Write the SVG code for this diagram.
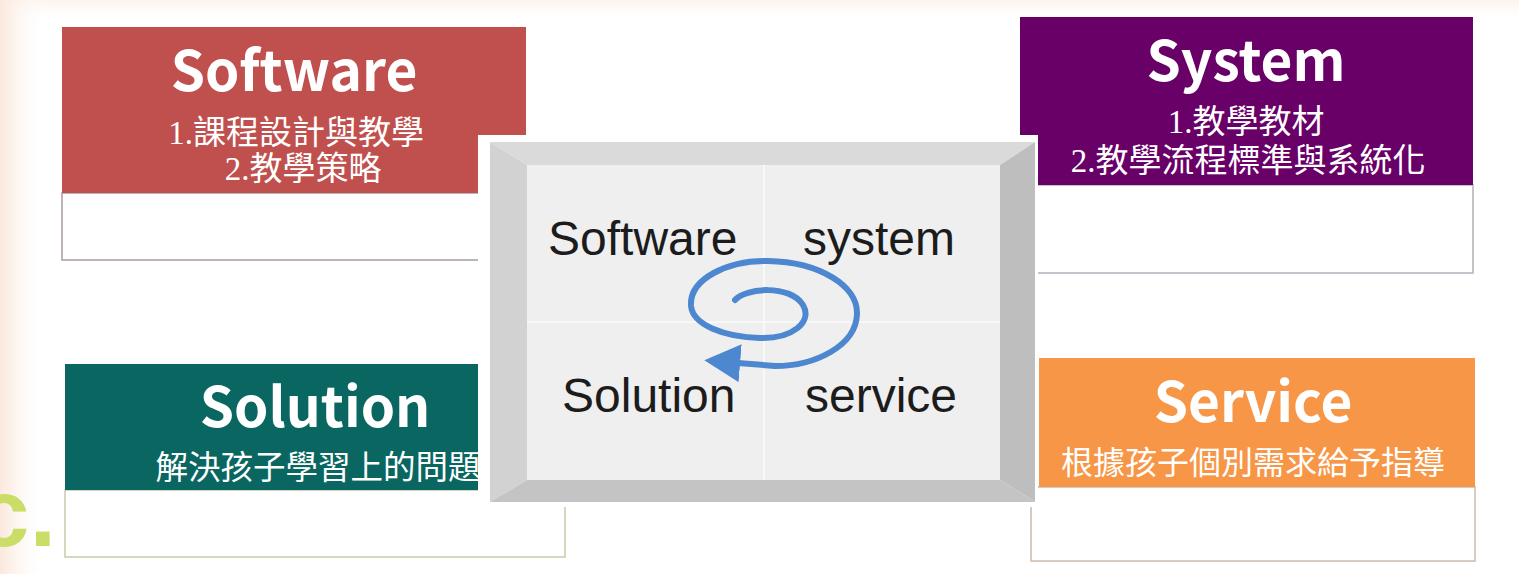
<svg xmlns="http://www.w3.org/2000/svg" width="1519" height="574" viewBox="0 0 1519 574">
  <defs>
    <linearGradient id="bgLeft" x1="0" y1="0" x2="1" y2="0">
      <stop offset="0" stop-color="#fbe8dd"/>
      <stop offset="1" stop-color="#ffffff" stop-opacity="0"/>
    </linearGradient>
    <linearGradient id="bgTop" x1="0" y1="0" x2="0" y2="1">
      <stop offset="0" stop-color="#fcf3ee"/>
      <stop offset="1" stop-color="#ffffff" stop-opacity="0"/>
    </linearGradient>
    <marker id="arrowHead" markerUnits="userSpaceOnUse" markerWidth="36" markerHeight="38" viewBox="0 0 34 36" refX="2" refY="18" orient="auto">
      <path d="M0,0 L34,18 L0,36 z" fill="#4c87cf"/>
    </marker>
    <style>
      .title { font-family: "Noto Sans CJK TC", "Noto Sans", sans-serif; font-weight: 700; font-size: 55px; fill: #ffffff; text-anchor: middle; }
      .sub { font-family: "Liberation Serif", "Noto Sans CJK TC", serif; font-size: 33px; fill: #ffffff; text-anchor: middle; }
      .cell { font-family: "Liberation Sans", Arial, sans-serif; font-size: 48px; fill: #1c1c1c; }
      .outline { fill: #ffffff; stroke-width: 1.5; }
    </style>
  </defs>

  <!-- background -->
  <rect x="0" y="0" width="1519" height="574" fill="#ffffff"/>
  <rect x="0" y="0" width="1519" height="22" fill="url(#bgTop)"/>
  <rect x="0" y="0" width="48" height="574" fill="url(#bgLeft)"/>
  <text x="-24" y="546" font-family="Liberation Sans, Arial, sans-serif" font-weight="700" font-size="96" fill="#cadd66">c.</text>

  <!-- Software node -->
  <g id="node-software">
    <rect class="outline" x="62" y="193" width="464" height="67" stroke="#ab9c9c"/>
    <rect x="62" y="27" width="464" height="166" fill="#c0504d"/>
    <text class="title" x="294" y="91">Software</text>
    <text class="sub" x="296" y="144">1.課程設計與教學</text>
    <text class="sub" x="303" y="180">2.教學策略</text>
  </g>

  <!-- System node -->
  <g id="node-system">
    <rect class="outline" x="1037" y="185" width="436" height="88" stroke="#b0b0ba"/>
    <rect x="1020" y="17" width="453" height="168" fill="#680068"/>
    <text class="title" x="1246" y="81">System</text>
    <text class="sub" x="1246" y="133">1.教學教材</text>
    <text class="sub" x="1248" y="172">2.教學流程標準與系統化</text>
  </g>

  <!-- Solution node -->
  <g id="node-solution">
    <rect class="outline" x="65" y="490" width="500" height="67" stroke="#cacaa8"/>
    <rect x="65" y="364" width="414" height="126" fill="#0a6661"/>
    <text class="title" x="315" y="427">Solution</text>
    <text class="sub" x="318" y="479" style="font-size:32.5px">解決孩子學習上的問題</text>
  </g>

  <!-- Service node -->
  <g id="node-service">
    <rect class="outline" x="1031" y="487" width="444" height="74" stroke="#cbbba8"/>
    <rect x="1039" y="358" width="436" height="129" fill="#f79646"/>
    <text class="title" x="1253" y="422">Service</text>
    <text class="sub" x="1253" y="474" style="font-size:32px">根據孩子個別需求給予指導</text>
  </g>

  <!-- Center cycle box -->
  <g id="node-cycle">
    <rect x="478" y="135" width="560" height="372" fill="#ffffff"/>
    <polygon points="490,142 1035,142 1000,165 527,165" fill="#dadada"/>
    <polygon points="490,142 527,165 527,480 490,502" fill="#d2d2d2"/>
    <polygon points="1035,142 1035,502 1000,480 1000,165" fill="#bebebe"/>
    <polygon points="490,502 1035,502 1000,480 527,480" fill="#c4c4c4"/>
    <rect x="527" y="165" width="473" height="315" fill="#efefef"/>
    <line x1="764" y1="165" x2="764" y2="480" stroke="#f8f8f8" stroke-width="2"/>
    <line x1="527" y1="322" x2="1000" y2="322" stroke="#f8f8f8" stroke-width="2"/>
    <text class="cell" x="548" y="255">Software</text>
    <text class="cell" x="803" y="255">system</text>
    <text class="cell" x="562" y="412">Solution</text>
    <text class="cell" x="805" y="412">service</text>
  </g>

  <!-- Connectors -->
  <g id="connectors">
    <path d="M 735 300 C 745 288, 790 284, 803 305 C 813 322, 792 339, 760 338 C 724 337, 693 325, 691 306 C 689 279, 728 260, 768 261 C 820 262, 858 286, 857 314 C 856 346, 815 366, 775 366 L 738 363" fill="none" stroke="#4c87cf" stroke-width="6" stroke-linecap="round" marker-end="url(#arrowHead)"/>
  </g>
</svg>
